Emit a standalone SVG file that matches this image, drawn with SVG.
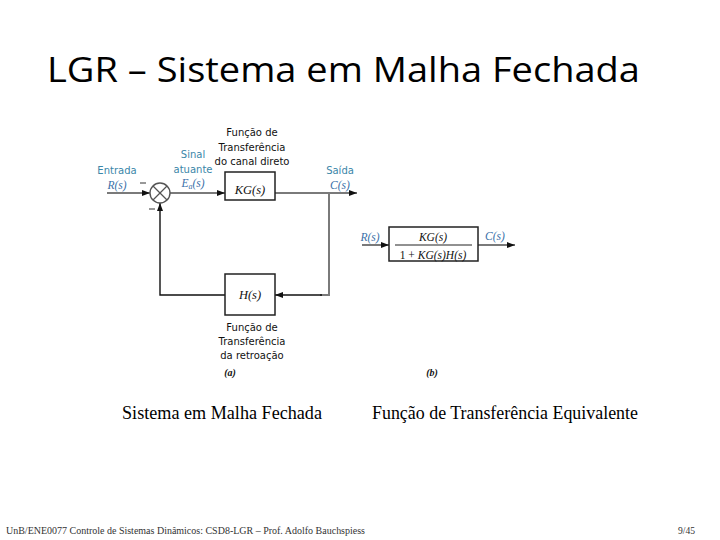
<svg xmlns="http://www.w3.org/2000/svg" width="720" height="540" viewBox="0 0 720 540">
<defs>
<style>
.lbl{font-family:"DejaVu Sans",Verdana,sans-serif;font-size:10px;text-anchor:middle}
.teal{fill:#3a86a8}
.blk{fill:#111}
.math{font-family:"Liberation Serif","Times New Roman",serif;font-style:italic;font-size:11.5px;text-anchor:middle}
.mb{fill:#3a6fa8}
.box{fill:#fff;stroke:#222;stroke-width:1.5}
.gl{stroke:#7a7a7a;stroke-width:2;fill:none}
.bl{stroke:#111;stroke-width:1.4;fill:none}
.cap{font-family:"Liberation Serif","Times New Roman",serif;font-size:18px;fill:#000}
</style>
<marker id="ah" markerWidth="8" markerHeight="6" refX="8" refY="3" orient="auto" markerUnits="userSpaceOnUse">
<path d="M0,0 L8,3 L0,6 Z" fill="#111"/>
</marker>
</defs>
<rect width="720" height="540" fill="#fff"/>
<text x="47" y="82" font-family="'Open Sans','Noto Sans',sans-serif" font-size="35" fill="#000" textLength="593" lengthAdjust="spacingAndGlyphs">LGR – Sistema em Malha Fechada</text>

<g id="connectors">
<line class="gl" x1="107" y1="193" x2="150" y2="193" marker-end="url(#ah)"/>
<line class="gl" x1="170" y1="193" x2="225" y2="193" marker-end="url(#ah)"/>
<line class="gl" x1="275" y1="193" x2="357" y2="193" marker-end="url(#ah)"/>
<polyline class="gl" points="329,193 329,295 320,295"/>
<line class="bl" x1="322" y1="295" x2="275" y2="295" marker-end="url(#ah)"/>
<polyline class="bl" points="225,295 160,295 160,203" marker-end="url(#ah)"/>
<line class="gl" x1="362" y1="245" x2="389" y2="245" marker-end="url(#ah)"/>
<line class="gl" x1="478" y1="245" x2="515" y2="245" marker-end="url(#ah)"/>
</g>

<g id="sum">
<circle cx="160" cy="193" r="10" fill="#fff" stroke="#555" stroke-width="1.4"/>
<line x1="153" y1="186" x2="167" y2="200" stroke="#555" stroke-width="1.2"/>
<line x1="167" y1="186" x2="153" y2="200" stroke="#555" stroke-width="1.2"/>
<line x1="140" y1="183" x2="146" y2="183" stroke="#333" stroke-width="1"/>
<line x1="149" y1="209" x2="155" y2="209" stroke="#333" stroke-width="1"/>
</g>

<g id="kg">
<rect class="box" x="225" y="172" width="50" height="28"/>
<text class="math blk" x="250" y="194" style="font-size:12.5px">KG(s)</text>
</g>

<g id="h">
<rect class="box" x="225" y="274" width="50" height="41"/>
<text class="math blk" x="250" y="299" style="font-size:12.5px">H(s)</text>
</g>

<g id="equiv">
<rect class="box" x="389" y="227" width="89" height="34"/>
<line x1="395" y1="245" x2="472" y2="245" stroke="#222" stroke-width="1"/>
<text class="math blk" x="433" y="241">KG(s)</text>
<text class="math blk" x="433" y="259"><tspan style="font-style:normal">1 + </tspan>KG(s)H(s)</text>
</g>

<g id="labels">
<text class="lbl teal" x="117" y="174">Entrada</text>
<text class="math mb" x="117" y="189">R(s)</text>
<text class="lbl teal" x="193" y="158">Sinal</text>
<text class="lbl teal" x="193" y="173">atuante</text>
<text class="math mb" x="193" y="187">E<tspan font-size="8" dy="2">a</tspan><tspan dy="-2">(s)</tspan></text>
<text class="lbl blk" x="252" y="136">Função de</text>
<text class="lbl blk" x="252" y="151">Transferência</text>
<text class="lbl blk" x="252" y="165">do canal direto</text>
<text class="lbl teal" x="340" y="174">Saída</text>
<text class="math mb" x="340" y="189">C(s)</text>
<text class="lbl blk" x="252" y="331">Função de</text>
<text class="lbl blk" x="252" y="345">Transferência</text>
<text class="lbl blk" x="252" y="359">da retroação</text>
<text class="math blk" x="230" y="376" style="font-weight:bold;font-size:10px">(a)</text>
<text class="math blk" x="432" y="376" style="font-weight:bold;font-size:10px">(b)</text>
<text class="math mb" x="370" y="241">R(s)</text>
<text class="math mb" x="495" y="240">C(s)</text>
</g>

<text class="cap" x="122" y="419" textLength="200" lengthAdjust="spacingAndGlyphs">Sistema em Malha Fechada</text>
<text class="cap" x="372" y="419" textLength="266" lengthAdjust="spacingAndGlyphs">Função de Transferência Equivalente</text>
<text x="6" y="534" font-family="'Liberation Serif',serif" font-size="10" fill="#333" textLength="359" lengthAdjust="spacingAndGlyphs">UnB/ENE0077 Controle de Sistemas Dinâmicos: CSD8-LGR – Prof. Adolfo Bauchspiess</text>
<text x="678" y="534" font-family="'Liberation Serif',serif" font-size="10" fill="#333" textLength="17" lengthAdjust="spacingAndGlyphs">9/45</text>
</svg>
